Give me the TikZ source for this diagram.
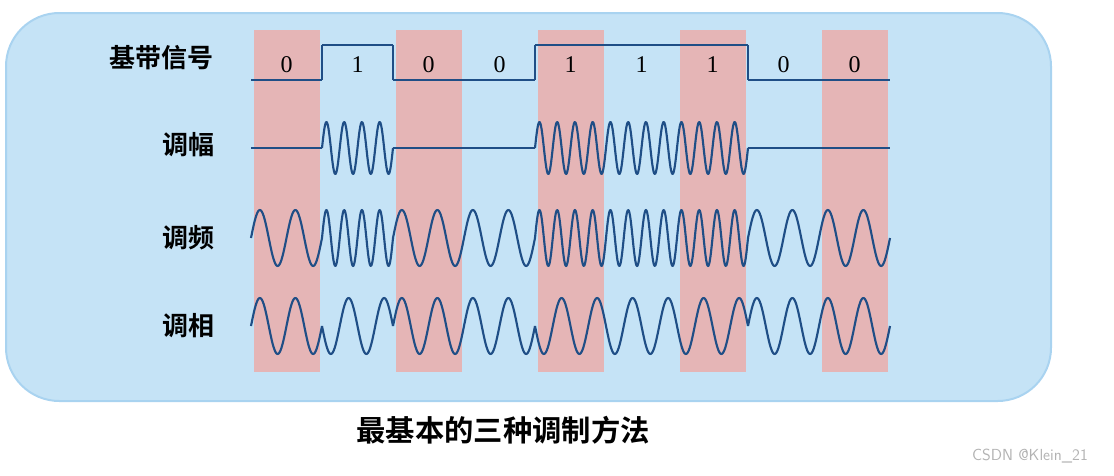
\documentclass[tikz,border=0pt]{standalone}
\usepackage{fontspec}
\newfontfamily\cjk{Noto Sans CJK SC}[BoldFont=* Bold]
\setmainfont{Liberation Serif}
\definecolor{bg}{HTML}{C5E3F6}
\definecolor{bgline}{HTML}{A9D3F0}
\definecolor{pinkc}{HTML}{E5B5B6}
\definecolor{wave}{HTML}{1F4E86}
\tikzset{sig/.style={wave,line width=1.6pt,line join=round},
 lab/.style={font=\cjk\bfseries\fontsize{19.5}{22}\selectfont},
 dig/.style={font=\fontsize{18}{20}\selectfont}}
\begin{document}
\begin{tikzpicture}[x=0.75pt,y=-0.75pt]
\useasboundingbox (0,0) rectangle (1114,475);
\node[draw=bgline,line width=1.5pt,fill=bg,rounded corners=40pt,minimum width=1045*0.75pt,minimum height=388*0.75pt,anchor=north west,inner sep=0] (bgbox) at (5,12) {};
\def\bits{0,1,0,0,1,1,1,0,0}
\foreach \b [count=\i from 0] in \bits {
  \pgfmathsetmacro{\xa}{251+71*\i}
  \pgfmathsetmacro{\xb}{\xa+71}
  \ifodd\i\else \fill[pinkc] (\xa+3,30) rectangle (\xb-2,372); \fi
  \node[dig] (d\i) at (\xa+35.5,65) {\b};
  \ifnum\b=1
    \draw[sig] (\xa,45) -- (\xb,45);
  \else
    \draw[sig] (\xa,80) -- (\xb,80);
  \fi
  \ifnum\b=1
    \draw[sig] plot[domain=\xa:\xb,samples=120] (\x,{148-26*sin(20.2817*(\x-\xa))});
  \else
    \draw[sig] (\xa,148) -- (\xb,148);
  \fi
  \ifnum\b=1
    \draw[sig] plot[domain=\xa:\xb,samples=120] (\x,{238-28*sin(20.2817*(\x-\xa))});
  \else
    \draw[sig] plot[domain=\xa:\xb,samples=80] (\x,{238-28*sin(10.1408*(\x-\xa))});
  \fi
  \ifnum\b=1
    \draw[sig] plot[domain=\xa:\xb,samples=80] (\x,{326+28*sin(10.1408*(\x-\xa))});
  \else
    \draw[sig] plot[domain=\xa:\xb,samples=80] (\x,{326-28*sin(10.1408*(\x-\xa))});
  \fi
}
\foreach \xx in {322,393,535,748} \draw[sig] (\xx,45) -- (\xx,80);
\node[lab] (l1) at (161,58) {基带信号};
\node[lab] (l2) at (188,145) {调幅};
\node[lab] (l3) at (188,238) {调频};
\node[lab] (l4) at (188,326) {调相};
\node[lab,font=\cjk\bfseries\fontsize{22}{24}\selectfont] (cap) at (503,430) {最基本的三种调制方法};
\node[font=\sffamily\fontsize{12}{14}\selectfont,text=black!30] (wm) at (1030,456) {CSDN @Klein\_21};
\end{tikzpicture}
\end{document}
